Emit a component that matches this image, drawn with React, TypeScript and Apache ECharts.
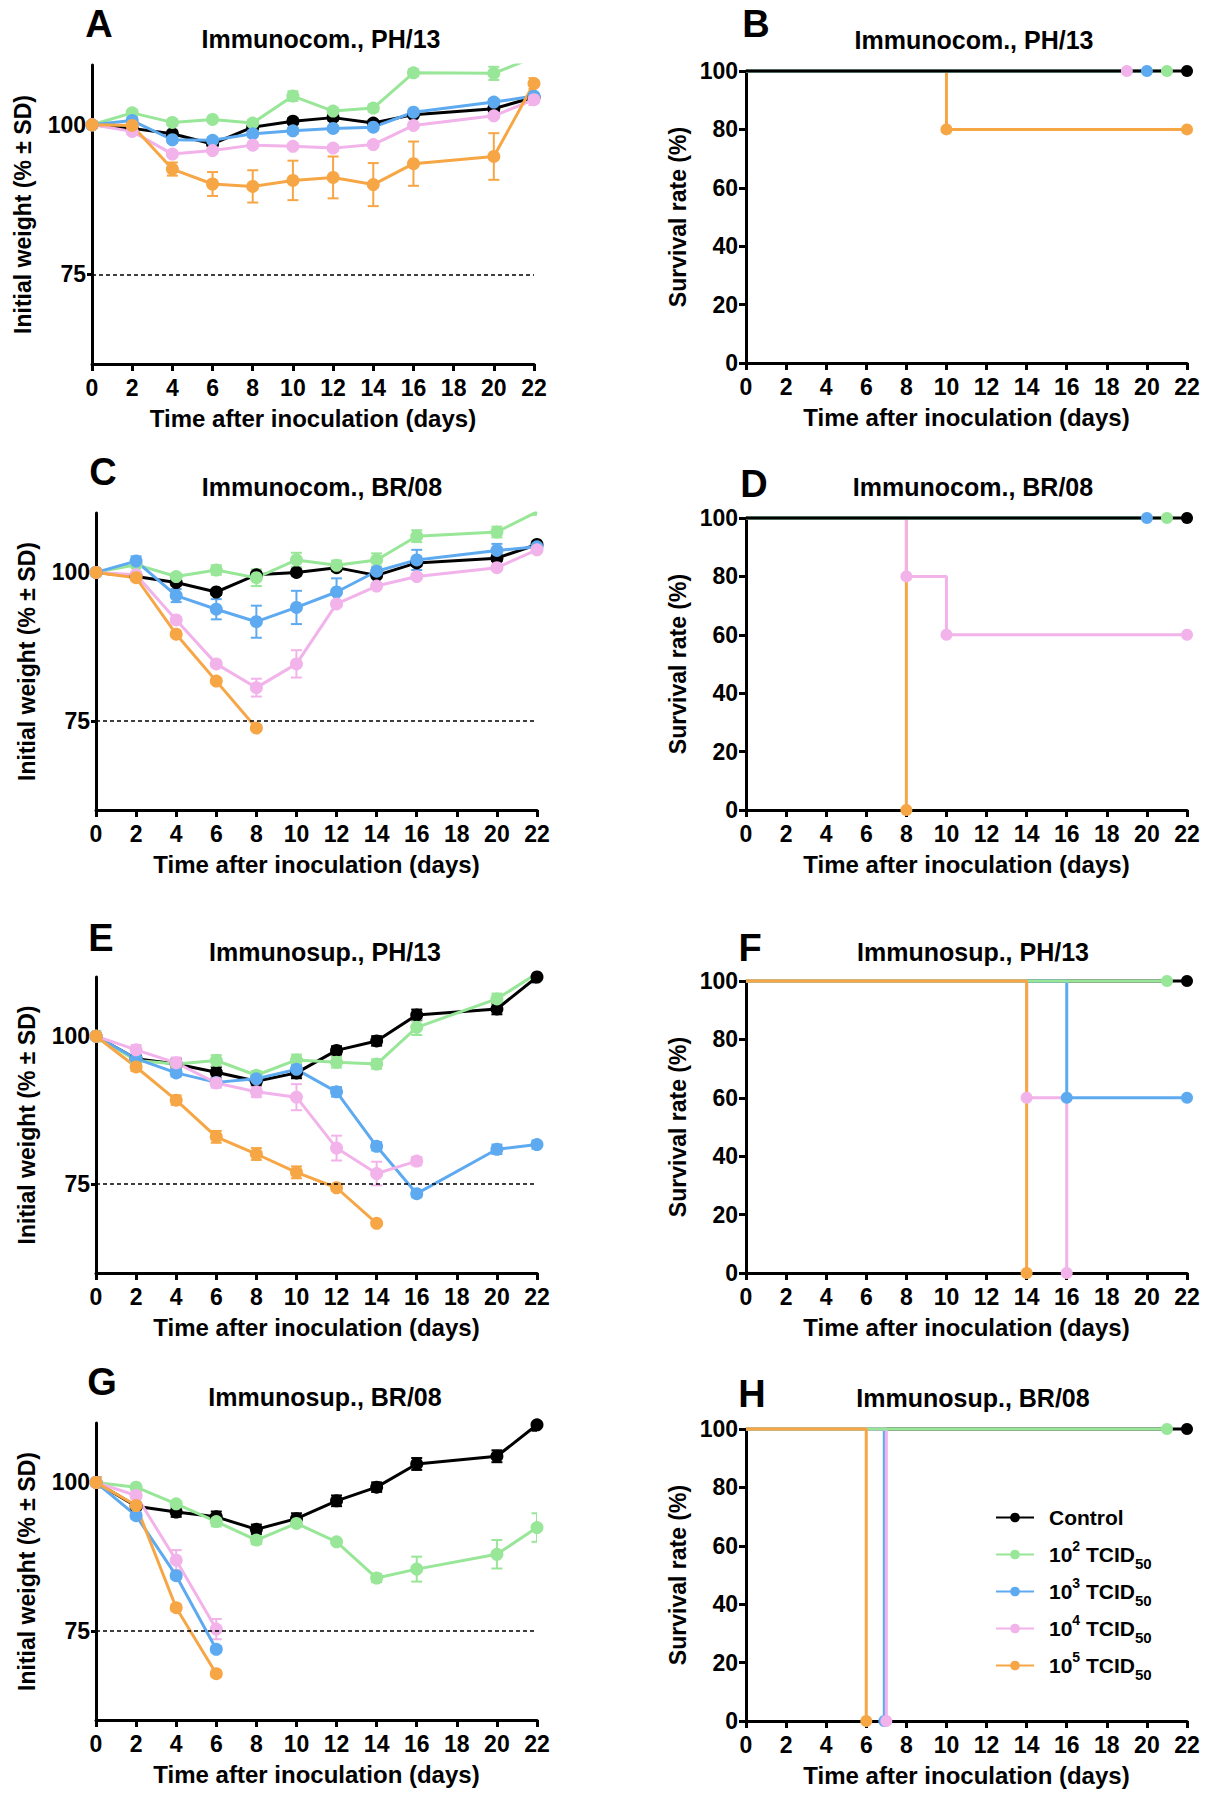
import React, { useEffect, useRef } from "react";
import * as echarts from "echarts";

const FONT = "'Liberation Sans', Arial, Helvetica, sans-serif";

const groups = ["Control", "10^2 TCID50", "10^3 TCID50", "10^4 TCID50", "10^5 TCID50"];
const colors = ["#000000", "#98e698", "#5eaaf0", "#f2b2ea", "#f7a645"];

const weightDays = [0, 2, 4, 6, 8, 10, 12, 14, 16, 20, 22];

// ---- Panel A: Immunocom., PH/13 (weight)
const aControl = [100, 99.4, 98.5, 96.8, 99.6, 100.6, 101.2, 100.3, 101.7, 102.7, 104.6];
const aG2 = [100, 102.0, 100.4, 100.9, 100.3, 104.8, 102.3, 102.8, 108.7, 108.6, 111.3];
const aB3 = [100, 100.7, 97.5, 97.4, 98.5, 99.0, 99.4, 99.6, 102.1, 103.8, 104.8];
const aP4 = [100, 98.9, 95.1, 95.7, 96.6, 96.4, 96.1, 96.7, 99.9, 101.5, 104.2];
const aO5 = [100, 99.9, 92.6, 90.1, 89.7, 90.7, 91.2, 90.0, 93.5, 94.7, 106.9];
const aControlSd = [0.5, 0.4, 0.5, 0.5, 0.4, 0.5, 0.5, 0.4, 0.4, 0.5, 0.5];
const aG2Sd = [0.5, 0.5, 0.5, 0.4, 0.5, 0.8, 0.5, 0.6, 0.6, 1.1, 0.5];
const aB3Sd = [0.5, 0.5, 0.5, 0.5, 0.5, 0.5, 0.4, 0.4, 0.4, 0.5, 0.5];
const aP4Sd = [0.5, 0.4, 0.4, 0.4, 0.4, 0.4, 0.4, 0.4, 0.4, 0.4, 0.9];
const aO5Sd = [0.5, 0.5, 1.1, 2.0, 2.7, 3.3, 3.5, 3.6, 3.7, 3.9, 0.9];

// ---- Panel C: Immunocom., BR/08 (weight)
const cControl = [100, 99.3, 98.3, 96.7, 99.6, 100.0, 100.8, 99.5, 101.6, 102.4, 104.7];
const cG2 = [100, 101.3, 99.3, 100.4, 99.1, 102.1, 101.2, 102.1, 106.1, 106.8, 110.2];
const cB3 = [100, 101.9, 96.1, 93.8, 91.7, 94.1, 96.7, 100.2, 102.1, 103.7, 104.3];
const cP4 = [100, 99.6, 92.0, 84.6, 80.6, 84.6, 94.7, 97.7, 99.3, 100.8, 103.8];
const cO5 = [100, 99.1, 89.6, 81.7, 73.8];
const cControlSd = [0.4, 0.4, 0.5, 0.5, 0.4, 0.5, 0.5, 0.4, 0.5, 0.5, 0.5];
const cG2Sd = [0.4, 0.4, 0.5, 0.8, 1.4, 1.2, 0.8, 1.1, 1.0, 0.9, 0.5];
const cB3Sd = [0.5, 0.8, 1.1, 1.7, 2.7, 2.8, 2.3, 0.5, 1.7, 1.1, 0.5];
const cP4Sd = [0.4, 0.4, 0.4, 0.4, 1.5, 2.3, 0.4, 0.4, 0.4, 0.4, 0.4];
const cO5Sd = [0.4, 0.4, 0.4, 0.4, 0.4];

// ---- Panel E: Immunosup., PH/13 (weight)
const eControl = [100, 96.2, 95.3, 93.9, 92.4, 93.8, 97.6, 99.2, 103.6, 104.6, 110.0];
const eG2 = [100, 95.9, 95.3, 95.9, 93.4, 96.0, 95.6, 95.3, 101.5, 106.3, 110.6];
const eB3 = [100, 96.2, 93.8, 92.2, 92.8, 94.4, 90.6, 81.4, 73.4, 80.9, 81.7];
const eP4 = [100, 97.7, 95.5, 92.1, 90.6, 89.7, 81.1, 76.8, 78.9];
const eO5 = [100, 94.8, 89.2, 83.0, 80.1, 77.0, 74.4, 68.4];
const eControlSd = [0.4, 0.6, 0.8, 0.9, 0.8, 0.9, 0.7, 0.8, 0.9, 0.9, 0.9];
const eG2Sd = [0.9, 0.6, 0.6, 0.9, 0.7, 0.9, 0.9, 0.8, 1.3, 0.9, 0.5];
const eB3Sd = [0.4, 0.5, 0.6, 0.6, 0.6, 0.8, 0.8, 0.7, 0.6, 0.8, 0.7];
const eP4Sd = [0.4, 0.8, 0.9, 0.8, 0.9, 2.2, 2.1, 2.0, 0.7];
const eO5Sd = [0.4, 0.7, 0.8, 1.0, 1.0, 1.0, 0.5, 0.4];

// ---- Panel G: Immunosup., BR/08 (weight)
const gControl = [100, 96.0, 95.0, 94.2, 92.1, 93.9, 96.9, 99.2, 103.1, 104.4, 109.7];
const gG2 = [100, 99.2, 96.4, 93.4, 90.3, 93.1, 90.0, 83.9, 85.4, 87.9, 92.4];
const gB3 = [100, 94.4, 84.3, 71.9];
const gP4 = [100, 97.8, 86.9, 75.3];
const gO5 = [100, 96.1, 78.9, 67.8];
const gControlSd = [0.4, 0.6, 0.8, 0.9, 0.8, 0.9, 0.9, 0.8, 1.0, 1.0, 1.0];
const gG2Sd = [0.9, 0.4, 0.4, 0.8, 0.7, 0.5, 0.4, 0.7, 2.1, 2.4, 2.4];
const gB3Sd = [0.5, 0.5, 0.5, 0.5];
const gP4Sd = [0.9, 0.6, 1.7, 1.7];
const gO5Sd = [0.9, 0.5, 0.5, 0.5];

// ---- Survival (Kaplan-Meier): times and survival %
const bControlT = [0, 22]; const bControlS = [100, 100];
const bG2T = [0, 21]; const bG2S = [100, 100];
const bB3T = [0, 20]; const bB3S = [100, 100];
const bP4T = [0, 19]; const bP4S = [100, 100];
const bO5T = [0, 10, 22]; const bO5S = [100, 80, 80];

const dControlT = [0, 22]; const dControlS = [100, 100];
const dG2T = [0, 21]; const dG2S = [100, 100];
const dB3T = [0, 20]; const dB3S = [100, 100];
const dP4T = [0, 8, 10, 22]; const dP4S = [100, 80, 60, 60];
const dO5T = [0, 8]; const dO5S = [100, 0];

const fControlT = [0, 22]; const fControlS = [100, 100];
const fG2T = [0, 21]; const fG2S = [100, 100];
const fB3T = [0, 16, 22]; const fB3S = [100, 60, 60];
const fP4T = [0, 14, 16]; const fP4S = [100, 60, 0];
const fO5T = [0, 14]; const fO5S = [100, 0];

const hControlT = [0, 22]; const hControlS = [100, 100];
const hG2T = [0, 21]; const hG2S = [100, 100];
const hB3T = [0, 6.9]; const hB3S = [100, 0];
const hP4T = [0, 7]; const hP4S = [100, 0];
const hO5T = [0, 6]; const hO5S = [100, 0];

const weightPanels = [
  { letter: "A", title: "Immunocom., PH/13", grid: { left: 92, top: 65, width: 442, height: 299 }, titleX: 321, titleY: 39, letterX: 99, letterY: 24,
    values: [aControl, aG2, aB3, aP4, aO5], sds: [aControlSd, aG2Sd, aB3Sd, aP4Sd, aO5Sd] },
  { letter: "C", title: "Immunocom., BR/08", grid: { left: 96, top: 513, width: 441, height: 297 }, titleX: 322, titleY: 487, letterX: 103, letterY: 472,
    values: [cControl, cG2, cB3, cP4, cO5], sds: [cControlSd, cG2Sd, cB3Sd, cP4Sd, cO5Sd] },
  { letter: "E", title: "Immunosup., PH/13", grid: { left: 96, top: 977, width: 441, height: 296 }, titleX: 325, titleY: 952, letterX: 101, letterY: 938,
    values: [eControl, eG2, eB3, eP4, eO5], sds: [eControlSd, eG2Sd, eB3Sd, eP4Sd, eO5Sd] },
  { letter: "G", title: "Immunosup., BR/08", grid: { left: 96, top: 1423, width: 441, height: 297 }, titleX: 325, titleY: 1397, letterX: 102, letterY: 1382,
    values: [gControl, gG2, gB3, gP4, gO5], sds: [gControlSd, gG2Sd, gB3Sd, gP4Sd, gO5Sd] },
];

const survivalPanels = [
  { letter: "B", title: "Immunocom., PH/13", grid: { left: 746, top: 71, width: 441, height: 292 }, titleX: 974, titleY: 40, letterX: 756, letterY: 24,
    times: [bControlT, bG2T, bB3T, bP4T, bO5T], surv: [bControlS, bG2S, bB3S, bP4S, bO5S], order: [4, 3, 2, 1, 0] },
  { letter: "D", title: "Immunocom., BR/08", grid: { left: 746, top: 518, width: 441, height: 292 }, titleX: 973, titleY: 487, letterX: 754, letterY: 484,
    times: [dControlT, dG2T, dB3T, dP4T, dO5T], surv: [dControlS, dG2S, dB3S, dP4S, dO5S], order: [4, 3, 2, 1, 0] },
  { letter: "F", title: "Immunosup., PH/13", grid: { left: 746, top: 981, width: 441, height: 292 }, titleX: 973, titleY: 952, letterX: 750, letterY: 948,
    times: [fControlT, fG2T, fB3T, fP4T, fO5T], surv: [fControlS, fG2S, fB3S, fP4S, fO5S], order: [0, 2, 3, 1, 4] },
  { letter: "H", title: "Immunosup., BR/08", grid: { left: 746, top: 1429, width: 441, height: 292 }, titleX: 973, titleY: 1398, letterX: 752, letterY: 1394,
    times: [hControlT, hG2T, hB3T, hP4T, hO5T], surv: [hControlS, hG2S, hB3S, hP4S, hO5S], order: [0, 2, 3, 1, 4] },
];

const xLabel = "Time after inoculation (days)";
const weightLabel = "Initial weight (% \u00B1 SD)";
const survivalLabel = "Survival rate (%)";

const boldText = { color: "#000", fontFamily: FONT, fontWeight: "bold" as const, fontSize: 23 };

function makeXAxis(gi: number) {
  return {
    type: "value", gridIndex: gi, min: 0, max: 22, interval: 2,
    axisLine: { show: true, onZero: false, lineStyle: { color: "#000", width: 3 } },
    axisTick: { show: true, length: 7, lineStyle: { color: "#000", width: 3 } },
    axisLabel: { ...boldText, margin: 12 },
    splitLine: { show: false },
    name: xLabel, nameLocation: "middle", nameGap: 42,
    nameTextStyle: { ...boldText, fontSize: 24 },
  };
}

function errRender(color: string) {
  return (params: any, api: any) => {
    const x = api.value(0);
    const lo = api.coord([x, api.value(1)]);
    const hi = api.coord([x, api.value(2)]);
    const hw = 5.5;
    const style = { stroke: color, lineWidth: 2, fill: null };
    return {
      type: "group",
      children: [
        { type: "line", shape: { x1: lo[0], y1: lo[1], x2: hi[0], y2: hi[1] }, style },
        { type: "line", shape: { x1: lo[0] - hw, y1: lo[1], x2: lo[0] + hw, y2: lo[1] }, style },
        { type: "line", shape: { x1: hi[0] - hw, y1: hi[1], x2: hi[0] + hw, y2: hi[1] }, style },
      ],
    };
  };
}

function buildOption() {
  const grid: any[] = [];
  const xAxis: any[] = [];
  const yAxis: any[] = [];
  const series: any[] = [];
  const graphic: any[] = [];
  let gi = 0;

  const addHeader = (p: any) => {
    graphic.push({
      type: "text", x: p.titleX, y: p.titleY,
      style: { text: p.title, fill: "#000", font: `bold 25px ${FONT}`, textAlign: "center", textVerticalAlign: "middle" },
    });
    graphic.push({
      type: "text", x: p.letterX, y: p.letterY,
      style: { text: p.letter, fill: "#000", font: `bold 38px ${FONT}`, textAlign: "center", textVerticalAlign: "middle" },
    });
  };

  weightPanels.forEach((p) => {
    grid.push({ ...p.grid, containLabel: false });
    xAxis.push(makeXAxis(gi));
    yAxis.push({
      type: "value", gridIndex: gi, min: 60, max: 110,
      axisLine: { show: true, onZero: false, lineStyle: { color: "#000", width: 3 } },
      axisTick: { show: true, length: 5, customValues: [75, 100], lineStyle: { color: "#000", width: 3 } },
      axisLabel: { ...boldText, margin: 6, customValues: [75, 100] },
      splitLine: { show: false },
      name: weightLabel, nameLocation: "middle", nameGap: 58, nameRotate: 90,
      nameTextStyle: { ...boldText },
    });
    p.values.forEach((vals: number[], k: number) => {
      const color = colors[k];
      const sd = p.sds[k];
      series.push({
        type: "custom", name: "SD " + groups[k], xAxisIndex: gi, yAxisIndex: gi, silent: true, clip: true,
        renderItem: errRender(color),
        encode: { x: 0, y: [1, 2] },
        data: vals.map((v, i) => [weightDays[i], v - sd[i], v + sd[i]]),
      });
      const s: any = {
        type: "line", name: groups[k], xAxisIndex: gi, yAxisIndex: gi, clip: true, silent: true,
        symbol: "circle", symbolSize: 13, showSymbol: true,
        lineStyle: { color, width: 3 }, itemStyle: { color },
        data: vals.map((v, i) => [weightDays[i], v]),
      };
      if (k === 0) {
        s.markLine = {
          silent: true, symbol: "none", label: { show: false },
          lineStyle: { color: "#000", type: [4, 3], width: 1.5 },
          data: [{ yAxis: 75 }],
        };
      }
      series.push(s);
    });
    addHeader(p);
    gi++;
  });

  survivalPanels.forEach((p) => {
    grid.push({ ...p.grid, containLabel: false });
    xAxis.push(makeXAxis(gi));
    yAxis.push({
      type: "value", gridIndex: gi, min: 0, max: 100, interval: 20,
      axisLine: { show: true, onZero: false, lineStyle: { color: "#000", width: 3 } },
      axisTick: { show: true, length: 7, lineStyle: { color: "#000", width: 3 } },
      axisLabel: { ...boldText, margin: 8 },
      splitLine: { show: false },
      name: survivalLabel, nameLocation: "middle", nameGap: 57, nameRotate: 90,
      nameTextStyle: { ...boldText },
    });
    p.order.forEach((k: number) => {
      const color = colors[k];
      const t = p.times[k];
      const sv = p.surv[k];
      series.push({
        type: "line", name: groups[k], xAxisIndex: gi, yAxisIndex: gi, clip: false, silent: true,
        step: "end", symbol: "circle", symbolSize: 12, showSymbol: true,
        lineStyle: { color, width: 3 }, itemStyle: { color },
        data: t.map((x: number, i: number) => (i === 0 ? { value: [x, sv[i]], symbol: "none" } : [x, sv[i]])),
      });
    });
    addHeader(p);
    gi++;
  });

  const legendFormatter = (name: string) => {
    if (name === "Control") return "{f|Control}{sub| }";
    const exp = name.charAt(3);
    return `{f|10}{sup|${exp}}{m| TCID}{sub|50}`;
  };

  return {
    animation: false,
    backgroundColor: "#ffffff",
    grid, xAxis, yAxis, series, graphic,
    legend: {
      data: groups, orient: "vertical", left: 990, top: 1502,
      itemWidth: 38, itemHeight: 12, itemGap: 5, selectedMode: false,
      formatter: legendFormatter,
      textStyle: {
        color: "#000", fontFamily: FONT, fontWeight: "bold", fontSize: 21,
        rich: {
          f: { color: "#000", fontFamily: FONT, fontWeight: "bold", fontSize: 21, lineHeight: 32, padding: [0, 0, 0, 10] },
          m: { color: "#000", fontFamily: FONT, fontWeight: "bold", fontSize: 21, lineHeight: 32 },
          sup: { color: "#000", fontFamily: FONT, fontWeight: "bold", fontSize: 14, lineHeight: 16, verticalAlign: "top" },
          sub: { color: "#000", fontFamily: FONT, fontWeight: "bold", fontSize: 15, lineHeight: 18, verticalAlign: "bottom" },
        },
      },
    },
  };
}

export default function App() {
  const ref = useRef<HTMLDivElement>(null);
  useEffect(() => {
    document.body.style.margin = "0";
    if (!ref.current) return;
    const chart = echarts.init(ref.current, undefined, { renderer: "svg" });
    chart.setOption(buildOption() as any);
    return () => chart.dispose();
  }, []);
  return <div ref={ref} style={{ width: 1220, height: 1800, background: "#fff" }} />;
}
